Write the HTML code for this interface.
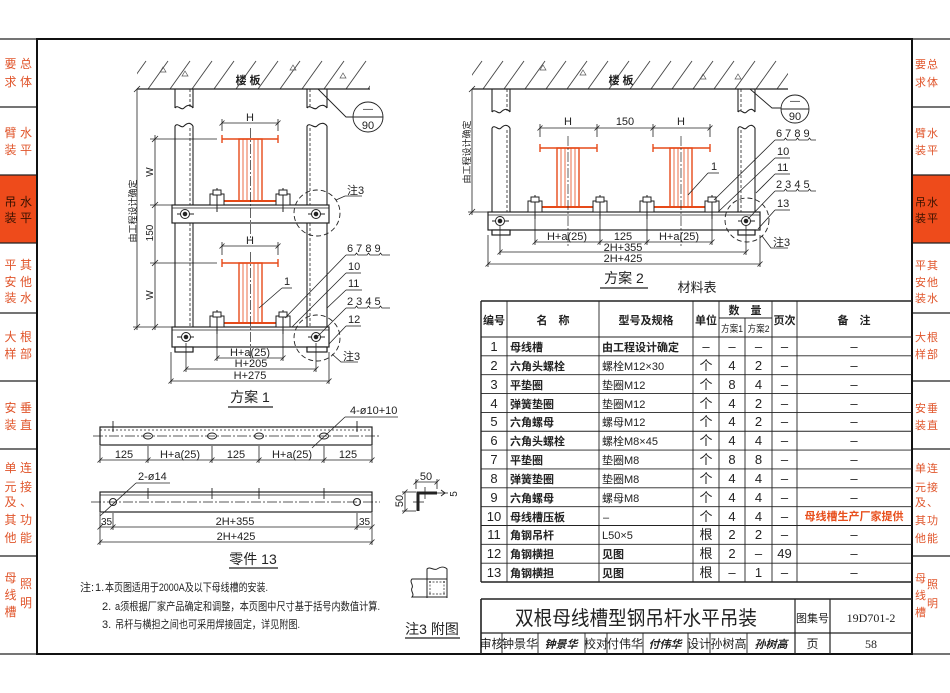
<!DOCTYPE html>
<html><head><meta charset="utf-8"><style>
html,body{margin:0;padding:0;background:#fff;}
svg{display:block;}
text{font-family:"Liberation Sans","Noto Sans CJK SC",sans-serif;fill:#222;}
.sb{font-size:12px;fill:#E0552B;text-anchor:middle;}
.sbr{font-size:11px;fill:#E0552B;text-anchor:middle;}
.act{fill:#3a1200;}
.d{font-size:11px;text-anchor:middle;}
.t{font-size:11px;}
.tc{font-size:11px;text-anchor:middle;}
.tn{font-size:13px;text-anchor:middle;}
</style></head><body>
<svg width="950" height="693" viewBox="0 0 950 693" xmlns="http://www.w3.org/2000/svg">
<defs>
<clipPath id="c1"><rect x="137" y="58" width="233" height="31"/></clipPath>
<clipPath id="c2"><rect x="472" y="58" width="316" height="31"/></clipPath>
</defs>

<!-- Sidebars -->
<rect x="0" y="175" width="37" height="68" fill="#EE4B1B"/>
<rect x="913" y="175" width="37" height="68" fill="#EE4B1B"/>
<g stroke="#222" stroke-width="1.2">
<line x1="0" y1="39" x2="37" y2="39"/><line x1="0" y1="107" x2="37" y2="107"/><line x1="0" y1="175" x2="37" y2="175"/><line x1="0" y1="243" x2="37" y2="243"/><line x1="0" y1="313" x2="37" y2="313"/><line x1="0" y1="381" x2="37" y2="381"/><line x1="0" y1="449" x2="37" y2="449"/><line x1="0" y1="556" x2="37" y2="556"/><line x1="0" y1="654" x2="37" y2="654"/>
<line x1="912" y1="39" x2="950" y2="39"/><line x1="912" y1="107" x2="950" y2="107"/><line x1="912" y1="175" x2="950" y2="175"/><line x1="912" y1="243" x2="950" y2="243"/><line x1="912" y1="313" x2="950" y2="313"/><line x1="912" y1="381" x2="950" y2="381"/><line x1="912" y1="449" x2="950" y2="449"/><line x1="912" y1="556" x2="950" y2="556"/><line x1="912" y1="654" x2="950" y2="654"/>
</g>
<g class="sb">
<text class="sb" x="10.5" y="68">要</text><text class="sb" x="26" y="68">总</text>
<text class="sb" x="10.5" y="86">求</text><text class="sb" x="26" y="86">体</text>
<text class="sb" x="10.5" y="137">臂</text><text class="sb" x="26" y="137">水</text>
<text class="sb" x="10.5" y="154">装</text><text class="sb" x="26" y="154">平</text>
<text class="sb act" x="10.5" y="206">吊</text><text class="sb act" x="26" y="206">水</text>
<text class="sb act" x="10.5" y="222">装</text><text class="sb act" x="26" y="222">平</text>
<text class="sb" x="10.5" y="269">平</text><text class="sb" x="26" y="269">其</text>
<text class="sb" x="10.5" y="286">安</text><text class="sb" x="26" y="286">他</text>
<text class="sb" x="10.5" y="302">装</text><text class="sb" x="26" y="302">水</text>
<text class="sb" x="10.5" y="341">大</text><text class="sb" x="26" y="341">根</text>
<text class="sb" x="10.5" y="358">样</text><text class="sb" x="26" y="358">部</text>
<text class="sb" x="10.5" y="412">安</text><text class="sb" x="26" y="412">垂</text>
<text class="sb" x="10.5" y="429">装</text><text class="sb" x="26" y="429">直</text>
<text class="sb" x="10.5" y="472">单</text><text class="sb" x="26" y="472">连</text>
<text class="sb" x="10.5" y="491">元</text><text class="sb" x="26" y="491">接</text>
<text class="sb" x="10.5" y="506">及</text><text class="sb" x="26" y="506">、</text>
<text class="sb" x="10.5" y="524">其</text><text class="sb" x="26" y="524">功</text>
<text class="sb" x="10.5" y="542">他</text><text class="sb" x="26" y="542">能</text>
<text class="sb" x="10.5" y="582">母</text><text class="sb" x="10.5" y="599">线</text><text class="sb" x="10.5" y="616">槽</text>
<text class="sb" x="26" y="588">照</text><text class="sb" x="26" y="607">明</text>
</g>
<g>
<text class="sbr" x="920.5" y="68">要</text><text class="sbr" x="932.5" y="68">总</text>
<text class="sbr" x="920.5" y="86">求</text><text class="sbr" x="932.5" y="86">体</text>
<text class="sbr" x="920.5" y="137">臂</text><text class="sbr" x="932.5" y="137">水</text>
<text class="sbr" x="920.5" y="154">装</text><text class="sbr" x="932.5" y="154">平</text>
<text class="sbr act" x="920.5" y="206">吊</text><text class="sbr act" x="932.5" y="206">水</text>
<text class="sbr act" x="920.5" y="222">装</text><text class="sbr act" x="932.5" y="222">平</text>
<text class="sbr" x="920.5" y="269">平</text><text class="sbr" x="932.5" y="269">其</text>
<text class="sbr" x="920.5" y="286">安</text><text class="sbr" x="932.5" y="286">他</text>
<text class="sbr" x="920.5" y="302">装</text><text class="sbr" x="932.5" y="302">水</text>
<text class="sbr" x="920.5" y="341">大</text><text class="sbr" x="932.5" y="341">根</text>
<text class="sbr" x="920.5" y="358">样</text><text class="sbr" x="932.5" y="358">部</text>
<text class="sbr" x="920.5" y="412">安</text><text class="sbr" x="932.5" y="412">垂</text>
<text class="sbr" x="920.5" y="429">装</text><text class="sbr" x="932.5" y="429">直</text>
<text class="sbr" x="920.5" y="472">单</text><text class="sbr" x="932.5" y="472">连</text>
<text class="sbr" x="920.5" y="491">元</text><text class="sbr" x="932.5" y="491">接</text>
<text class="sbr" x="920.5" y="506">及</text><text class="sbr" x="932.5" y="506">、</text>
<text class="sbr" x="920.5" y="524">其</text><text class="sbr" x="932.5" y="524">功</text>
<text class="sbr" x="920.5" y="542">他</text><text class="sbr" x="932.5" y="542">能</text>
<text class="sbr" x="920.5" y="582">母</text><text class="sbr" x="920.5" y="599">线</text><text class="sbr" x="920.5" y="616">槽</text>
<text class="sbr" x="932.5" y="588">照</text><text class="sbr" x="932.5" y="607">明</text>
</g>

<!-- Main frame -->
<rect x="37" y="39" width="875" height="615" fill="none" stroke="#111" stroke-width="2"/>

<!-- ================= SCHEME 1 ================= -->
<g clip-path="url(#c1)" stroke="#444" stroke-width="0.9">
<line x1="126" y1="89" x2="146" y2="61"/><line x1="148" y1="89" x2="168" y2="61"/><line x1="170" y1="89" x2="190" y2="61"/><line x1="192" y1="89" x2="212" y2="61"/><line x1="214" y1="89" x2="234" y2="61"/><line x1="236" y1="89" x2="256" y2="61"/><line x1="258" y1="89" x2="278" y2="61"/><line x1="280" y1="89" x2="300" y2="61"/><line x1="302" y1="89" x2="322" y2="61"/><line x1="324" y1="89" x2="344" y2="61"/><line x1="346" y1="89" x2="366" y2="61"/><line x1="368" y1="89" x2="388" y2="61"/>
</g>
<g fill="none" stroke="#555" stroke-width="0.7">
<path d="M160,72 l3,-5 l3,5 z"/><path d="M182,76 l3,-5 l3,5 z"/><path d="M290,70 l3,-5 l3,5 z"/><path d="M340,78 l3,-5 l3,5 z"/>
</g>
<line x1="137" y1="89" x2="370" y2="89" stroke="#222" stroke-width="1.3"/>
<text x="248" y="84" font-size="11" text-anchor="middle" font-weight="bold">楼 板</text>

<!-- rods scheme 1 -->
<g stroke="#222" stroke-width="1.1" fill="none">
<line x1="175" y1="89" x2="175" y2="108"/><line x1="193" y1="89" x2="193" y2="108"/>
<path d="M175,108 c3,-4 6,3 9,0 s6,-4 9,0"/>
<path d="M175,126 c3,-4 6,3 9,0 s6,-4 9,0"/>
<line x1="175" y1="126" x2="175" y2="352"/><line x1="193" y1="126" x2="193" y2="352"/>
<line x1="307" y1="89" x2="307" y2="108"/><line x1="327" y1="89" x2="327" y2="108"/>
<path d="M307,108 c3,-4 7,3 10,0 s7,-4 10,0"/>
<path d="M307,126 c3,-4 7,3 10,0 s7,-4 10,0"/>
<line x1="307" y1="126" x2="307" y2="352"/><line x1="327" y1="126" x2="327" y2="352"/>
</g>
<g stroke="#222" stroke-width="0.8" stroke-dasharray="3,2">
<line x1="190" y1="89" x2="190" y2="107"/><line x1="190" y1="128" x2="190" y2="347"/>
<line x1="310" y1="89" x2="310" y2="107"/><line x1="310" y1="128" x2="310" y2="347"/>
</g>

<!-- crossbars scheme 1 -->
<g stroke="#222" stroke-width="1.2" fill="#fff">
<rect x="172" y="205" width="157" height="18"/>
<rect x="172" y="327" width="157" height="20"/>
<rect x="175" y="347" width="18" height="5"/>
<rect x="307" y="347" width="20" height="5"/>
</g>
<line x1="172" y1="208" x2="329" y2="208" stroke="#222" stroke-width="0.8"/>
<line x1="172" y1="330" x2="329" y2="330" stroke="#222" stroke-width="0.8"/>
<g stroke="#222" stroke-width="1">
<line x1="177" y1="214" x2="194" y2="214"/><circle cx="185" cy="214" r="4.5" fill="#fff"/><circle cx="185" cy="214" r="1.8" fill="#222"/>
<line x1="308" y1="214" x2="325" y2="214"/><circle cx="316" cy="214" r="4.5" fill="#fff"/><circle cx="316" cy="214" r="1.8" fill="#222"/>
<line x1="177" y1="337" x2="194" y2="337"/><circle cx="186" cy="337" r="4.5" fill="#fff"/><circle cx="186" cy="337" r="1.8" fill="#222"/>
<line x1="308" y1="337" x2="325" y2="337"/><circle cx="316" cy="337" r="4.5" fill="#fff"/><circle cx="316" cy="337" r="1.8" fill="#222"/>
</g>

<!-- duct 1 scheme 1 -->
<g stroke="#E64A19" fill="none">
<line x1="222" y1="139" x2="278" y2="139" stroke-width="1.6"/>
<line x1="222" y1="135" x2="222" y2="143" stroke-width="1.4"/><line x1="278" y1="135" x2="278" y2="143" stroke-width="1.4"/>
<rect x="239" y="139" width="23" height="62" stroke-width="1.4"/>
<g stroke-width="0.8"><line x1="243" y1="139" x2="243" y2="201"/><line x1="247" y1="139" x2="247" y2="201"/><line x1="254" y1="139" x2="254" y2="201"/><line x1="258" y1="139" x2="258" y2="201"/></g>
<line x1="222" y1="201" x2="279" y2="201" stroke-width="2"/>
</g>
<!-- duct 2 scheme 1 -->
<g stroke="#E64A19" fill="none">
<line x1="222" y1="263" x2="278" y2="263" stroke-width="1.6"/>
<line x1="222" y1="259" x2="222" y2="267" stroke-width="1.4"/><line x1="278" y1="259" x2="278" y2="267" stroke-width="1.4"/>
<rect x="239" y="263" width="23" height="60" stroke-width="1.4"/>
<g stroke-width="0.8"><line x1="243" y1="263" x2="243" y2="323"/><line x1="247" y1="263" x2="247" y2="323"/><line x1="254" y1="263" x2="254" y2="323"/><line x1="258" y1="263" x2="258" y2="323"/></g>
<line x1="222" y1="323" x2="279" y2="323" stroke-width="2"/>
</g>
<g stroke="#222" stroke-width="0.7" stroke-dasharray="10,2,2,2">
<line x1="250.5" y1="128" x2="250.5" y2="238"/>
<line x1="250.5" y1="252" x2="250.5" y2="362"/>
</g>
<g stroke="#222" stroke-width="1" fill="#fff">
<rect x="210" y="194" width="14" height="11"/><rect x="276" y="194" width="14" height="11"/>
<rect x="210" y="316" width="14" height="11"/><rect x="276" y="316" width="14" height="11"/>
<line x1="217" y1="188" x2="217" y2="212"/><line x1="283" y1="188" x2="283" y2="212"/>
<line x1="217" y1="310" x2="217" y2="334"/><line x1="283" y1="310" x2="283" y2="334"/>
<rect x="213" y="190" width="8" height="5"/><rect x="279" y="190" width="8" height="5"/>
<rect x="213" y="312" width="8" height="5"/><rect x="279" y="312" width="8" height="5"/>
</g>

<!-- dims scheme 1 -->
<g stroke="#222" stroke-width="0.8" fill="none">
<line x1="137" y1="89" x2="137" y2="330"/>
<line x1="134" y1="92" x2="140" y2="86"/><line x1="134" y1="330" x2="140" y2="324"/>
<line x1="133" y1="327" x2="172" y2="327"/>
<line x1="155" y1="135" x2="155" y2="330"/>
<line x1="152" y1="142" x2="158" y2="136"/><line x1="152" y1="208" x2="158" y2="202"/><line x1="152" y1="266" x2="158" y2="260"/><line x1="152" y1="330" x2="158" y2="324"/>
<line x1="150" y1="139" x2="217" y2="139"/><line x1="150" y1="205" x2="172" y2="205"/><line x1="150" y1="263" x2="217" y2="263"/>
<line x1="222" y1="123" x2="278" y2="123"/><line x1="222" y1="119" x2="222" y2="131"/><line x1="278" y1="119" x2="278" y2="131"/>
<line x1="219.5" y1="125.5" x2="224.5" y2="120.5"/><line x1="275.5" y1="125.5" x2="280.5" y2="120.5"/>
<line x1="222" y1="246" x2="278" y2="246"/><line x1="222" y1="242" x2="222" y2="255"/><line x1="278" y1="242" x2="278" y2="255"/>
<line x1="219.5" y1="248.5" x2="224.5" y2="243.5"/><line x1="275.5" y1="248.5" x2="280.5" y2="243.5"/>
<line x1="217" y1="334" x2="217" y2="361"/><line x1="283" y1="334" x2="283" y2="361"/>
<line x1="217" y1="358" x2="283" y2="358"/>
<line x1="214.5" y1="360.5" x2="219.5" y2="355.5"/><line x1="280.5" y1="360.5" x2="285.5" y2="355.5"/>
<line x1="186" y1="343" x2="186" y2="372"/><line x1="316" y1="343" x2="316" y2="372"/>
<line x1="186" y1="369" x2="316" y2="369"/>
<line x1="183.5" y1="371.5" x2="188.5" y2="366.5"/><line x1="313.5" y1="371.5" x2="318.5" y2="366.5"/>
<line x1="171" y1="352" x2="171" y2="384"/><line x1="329" y1="352" x2="329" y2="384"/>
<line x1="171" y1="381" x2="329" y2="381"/>
<line x1="168.5" y1="383.5" x2="173.5" y2="378.5"/><line x1="326.5" y1="383.5" x2="331.5" y2="378.5"/>
</g>
<text transform="translate(136,211) rotate(-90)" text-anchor="middle" font-size="9">由工程设计确定</text>
<text transform="translate(153,172) rotate(-90)" text-anchor="middle" font-size="10">W</text>
<text transform="translate(153,233) rotate(-90)" text-anchor="middle" font-size="10">150</text>
<text transform="translate(153,295) rotate(-90)" text-anchor="middle" font-size="10">W</text>
<text class="d" x="250" y="121">H</text>
<text class="d" x="250" y="244">H</text>
<text class="d" x="250" y="356">H+a(25)</text>
<text class="d" x="251" y="367">H+205</text>
<text class="d" x="250" y="379">H+275</text>

<g stroke="#222" stroke-width="0.9" fill="none">
<polyline points="318,89 346,117 353,117"/>
<circle cx="368" cy="117" r="15"/>
<line x1="353" y1="117" x2="383" y2="117"/>
</g>
<text x="368" y="112" font-size="10" text-anchor="middle">—</text>
<text x="368" y="129" font-size="11" text-anchor="middle">90</text>

<g stroke="#222" stroke-width="0.9" fill="none" stroke-dasharray="5,3">
<circle cx="317" cy="213" r="23"/>
<circle cx="317" cy="338" r="23"/>
</g>
<g stroke="#222" stroke-width="0.8" fill="none">
<polyline points="336,200 345,196 362,196"/>
<polyline points="332,354 341,362 358,362"/>
<line x1="346" y1="255" x2="285" y2="318"/>
<path d="M346,255 h9 l1.5,-2 1.5,2 h9 l1.5,-2 1.5,2 h9 l1.5,-2 1.5,2 h8"/>
<line x1="346" y1="273" x2="292" y2="327"/><line x1="346" y1="273" x2="361" y2="273"/>
<line x1="346" y1="290" x2="327" y2="308"/><line x1="346" y1="290" x2="362" y2="290"/>
<line x1="346" y1="308" x2="318" y2="336"/>
<path d="M346,308 h9 l1.5,-2 1.5,2 h9 l1.5,-2 1.5,2 h9 l1.5,-2 1.5,2 h8"/>
<line x1="346" y1="326" x2="329" y2="344"/><line x1="346" y1="326" x2="361" y2="326"/>
<line x1="282" y1="288" x2="259" y2="308"/><line x1="282" y1="288" x2="292" y2="288"/>
</g>
<text x="347" y="194" font-size="11">注3</text>
<text x="343" y="360" font-size="11">注3</text>
<text x="347" y="252" font-size="11">6 7 8 9</text>
<text x="348" y="270" font-size="11">10</text>
<text x="348" y="287" font-size="11">11</text>
<text x="347" y="305" font-size="11">2 3 4 5</text>
<text x="348" y="323" font-size="11">12</text>
<text x="284" y="285" font-size="11">1</text>
<text x="250" y="402" font-size="14" text-anchor="middle">方案 1</text>
<line x1="228" y1="407" x2="273" y2="407" stroke="#222" stroke-width="1.2"/>

<!-- ================= SCHEME 2 ================= -->
<g clip-path="url(#c2)" stroke="#444" stroke-width="0.9">
<line x1="462" y1="89" x2="482" y2="61"/><line x1="483" y1="89" x2="503" y2="61"/><line x1="504" y1="89" x2="524" y2="61"/><line x1="525" y1="89" x2="545" y2="61"/><line x1="546" y1="89" x2="566" y2="61"/><line x1="567" y1="89" x2="587" y2="61"/><line x1="588" y1="89" x2="608" y2="61"/><line x1="609" y1="89" x2="629" y2="61"/><line x1="630" y1="89" x2="650" y2="61"/><line x1="651" y1="89" x2="671" y2="61"/><line x1="672" y1="89" x2="692" y2="61"/><line x1="693" y1="89" x2="713" y2="61"/><line x1="714" y1="89" x2="734" y2="61"/><line x1="735" y1="89" x2="755" y2="61"/><line x1="756" y1="89" x2="776" y2="61"/><line x1="777" y1="89" x2="797" y2="61"/>
</g>
<g fill="none" stroke="#555" stroke-width="0.7">
<path d="M540,70 l3,-5 l3,5 z"/><path d="M580,75 l3,-5 l3,5 z"/><path d="M700,79 l3,-5 l3,5 z"/><path d="M735,79 l3,-5 l3,5 z"/>
</g>
<line x1="472" y1="89" x2="788" y2="89" stroke="#222" stroke-width="1.3"/>
<text x="621" y="84" font-size="11" text-anchor="middle" font-weight="bold">楼 板</text>

<g stroke="#222" stroke-width="1.1" fill="none">
<line x1="492" y1="89" x2="492" y2="112"/><line x1="510" y1="89" x2="510" y2="112"/>
<path d="M492,112 c3,-4 6,3 9,0 s6,-4 9,0"/>
<path d="M492,128 c3,-4 6,3 9,0 s6,-4 9,0"/>
<line x1="492" y1="128" x2="492" y2="235"/><line x1="510" y1="128" x2="510" y2="235"/>
<line x1="738" y1="89" x2="738" y2="112"/><line x1="755" y1="89" x2="755" y2="112"/>
<path d="M738,112 c3,-4 5.5,3 8.5,0 s5.5,-4 8.5,0"/>
<path d="M738,128 c3,-4 5.5,3 8.5,0 s5.5,-4 8.5,0"/>
<line x1="738" y1="128" x2="738" y2="235"/><line x1="755" y1="128" x2="755" y2="235"/>
</g>
<g stroke="#222" stroke-width="0.8" stroke-dasharray="3,2">
<line x1="507" y1="89" x2="507" y2="111"/><line x1="507" y1="130" x2="507" y2="230"/>
<line x1="741" y1="89" x2="741" y2="111"/><line x1="741" y1="130" x2="741" y2="230"/>
</g>
<g stroke="#222" stroke-width="1.2" fill="#fff">
<rect x="488" y="212" width="272" height="18"/>
<rect x="492" y="230" width="18" height="5"/>
<rect x="738" y="230" width="17" height="5"/>
</g>
<line x1="488" y1="215" x2="760" y2="215" stroke="#222" stroke-width="0.8"/>
<g stroke="#222" stroke-width="1">
<line x1="492" y1="221" x2="509" y2="221"/><circle cx="500" cy="221" r="4.5" fill="#fff"/><circle cx="500" cy="221" r="1.8" fill="#222"/>
<line x1="738" y1="221" x2="755" y2="221"/><circle cx="746" cy="221" r="4.5" fill="#fff"/><circle cx="746" cy="221" r="1.8" fill="#222"/>
</g>
<g stroke="#E64A19" fill="none">
<line x1="540" y1="148" x2="597" y2="148" stroke-width="1.6"/>
<line x1="540" y1="144" x2="540" y2="152" stroke-width="1.4"/><line x1="597" y1="144" x2="597" y2="152" stroke-width="1.4"/>
<rect x="557" y="148" width="22" height="59" stroke-width="1.4"/>
<g stroke-width="0.8"><line x1="561" y1="148" x2="561" y2="207"/><line x1="565" y1="148" x2="565" y2="207"/><line x1="571" y1="148" x2="571" y2="207"/><line x1="575" y1="148" x2="575" y2="207"/></g>
<line x1="535" y1="207" x2="600" y2="207" stroke-width="2"/>
<line x1="653" y1="148" x2="710" y2="148" stroke-width="1.6"/>
<line x1="653" y1="144" x2="653" y2="152" stroke-width="1.4"/><line x1="710" y1="144" x2="710" y2="152" stroke-width="1.4"/>
<rect x="670" y="148" width="22" height="59" stroke-width="1.4"/>
<g stroke-width="0.8"><line x1="674" y1="148" x2="674" y2="207"/><line x1="678" y1="148" x2="678" y2="207"/><line x1="684" y1="148" x2="684" y2="207"/><line x1="688" y1="148" x2="688" y2="207"/></g>
<line x1="647" y1="207" x2="712" y2="207" stroke-width="2"/>
</g>
<g stroke="#222" stroke-width="0.7" stroke-dasharray="10,2,2,2">
<line x1="568" y1="136" x2="568" y2="246"/>
<line x1="681" y1="136" x2="681" y2="246"/>
</g>
<g stroke="#222" stroke-width="1" fill="#fff">
<rect x="528" y="201" width="14" height="11"/><rect x="593" y="201" width="14" height="11"/>
<rect x="640" y="201" width="14" height="11"/><rect x="705" y="201" width="14" height="11"/>
<line x1="535" y1="195" x2="535" y2="219"/><line x1="600" y1="195" x2="600" y2="219"/>
<line x1="647" y1="195" x2="647" y2="219"/><line x1="712" y1="195" x2="712" y2="219"/>
<rect x="531" y="197" width="8" height="5"/><rect x="596" y="197" width="8" height="5"/>
<rect x="643" y="197" width="8" height="5"/><rect x="708" y="197" width="8" height="5"/>
</g>
<g stroke="#222" stroke-width="0.8" fill="none">
<line x1="472" y1="89" x2="472" y2="215"/>
<line x1="469" y1="92" x2="475" y2="86"/><line x1="469" y1="215" x2="475" y2="209"/>
<line x1="468" y1="212" x2="488" y2="212"/>
<line x1="540" y1="128" x2="710" y2="128"/>
<line x1="540" y1="124" x2="540" y2="137"/><line x1="597" y1="124" x2="597" y2="137"/><line x1="653" y1="124" x2="653" y2="137"/><line x1="710" y1="124" x2="710" y2="137"/>
<line x1="537.5" y1="130.5" x2="542.5" y2="125.5"/><line x1="594.5" y1="130.5" x2="599.5" y2="125.5"/><line x1="650.5" y1="130.5" x2="655.5" y2="125.5"/><line x1="707.5" y1="130.5" x2="712.5" y2="125.5"/>
<line x1="535" y1="219" x2="535" y2="245"/><line x1="600" y1="219" x2="600" y2="245"/><line x1="647" y1="219" x2="647" y2="245"/><line x1="712" y1="219" x2="712" y2="245"/>
<line x1="535" y1="242" x2="712" y2="242"/>
<line x1="532.5" y1="244.5" x2="537.5" y2="239.5"/><line x1="597.5" y1="244.5" x2="602.5" y2="239.5"/><line x1="644.5" y1="244.5" x2="649.5" y2="239.5"/><line x1="709.5" y1="244.5" x2="714.5" y2="239.5"/>
<line x1="500" y1="226" x2="500" y2="255"/><line x1="746" y1="226" x2="746" y2="255"/>
<line x1="500" y1="252" x2="746" y2="252"/>
<line x1="497.5" y1="254.5" x2="502.5" y2="249.5"/><line x1="743.5" y1="254.5" x2="748.5" y2="249.5"/>
<line x1="488" y1="235" x2="488" y2="267"/><line x1="760" y1="235" x2="760" y2="267"/>
<line x1="488" y1="264" x2="760" y2="264"/>
<line x1="485.5" y1="266.5" x2="490.5" y2="261.5"/><line x1="757.5" y1="266.5" x2="762.5" y2="261.5"/>
</g>
<text transform="translate(470,152) rotate(-90)" text-anchor="middle" font-size="9">由工程设计确定</text>
<text class="d" x="568" y="125">H</text>
<text class="d" x="625" y="125">150</text>
<text class="d" x="681" y="125">H</text>
<text class="d" x="567" y="240">H+a(25)</text>
<text class="d" x="623" y="240">125</text>
<text class="d" x="679" y="240">H+a(25)</text>
<text class="d" x="623" y="251">2H+355</text>
<text class="d" x="623" y="262">2H+425</text>

<g stroke="#222" stroke-width="0.9" fill="none">
<polyline points="750,89 772,108 781,108"/>
<circle cx="795" cy="109" r="14"/>
<line x1="781" y1="109" x2="809" y2="109"/>
</g>
<text x="795" y="104" font-size="10" text-anchor="middle">—</text>
<text x="795" y="120" font-size="11" text-anchor="middle">90</text>
<circle cx="747" cy="220" r="22" fill="none" stroke="#222" stroke-width="0.9" stroke-dasharray="5,3"/>
<g stroke="#222" stroke-width="0.8" fill="none">
<line x1="775" y1="140" x2="714" y2="200"/>
<path d="M775,140 h9 l1.5,-2 1.5,2 h9 l1.5,-2 1.5,2 h9 l1.5,-2 1.5,2 h5"/>
<line x1="775" y1="158" x2="718" y2="212"/><line x1="775" y1="158" x2="790" y2="158"/>
<line x1="775" y1="174" x2="756" y2="193"/><line x1="775" y1="174" x2="790" y2="174"/>
<line x1="775" y1="191" x2="748" y2="219"/>
<path d="M775,191 h9 l1.5,-2 1.5,2 h9 l1.5,-2 1.5,2 h9 l1.5,-2 1.5,2 h5"/>
<line x1="775" y1="210" x2="758" y2="229"/><line x1="775" y1="210" x2="790" y2="210"/>
<polyline points="762,236 771,248 788,248"/>
<line x1="708" y1="173" x2="688" y2="195"/><line x1="708" y1="173" x2="719" y2="173"/>
</g>
<text x="776" y="137" font-size="11">6 7 8 9</text>
<text x="777" y="155" font-size="11">10</text>
<text x="777" y="171" font-size="11">11</text>
<text x="776" y="188" font-size="11">2 3 4 5</text>
<text x="777" y="207" font-size="11">13</text>
<text x="773" y="246" font-size="11">注3</text>
<text x="711" y="170" font-size="11">1</text>
<text x="624" y="283" font-size="14" text-anchor="middle">方案 2</text>
<line x1="600" y1="288" x2="648" y2="288" stroke="#222" stroke-width="1.2"/>
<text x="697" y="292" font-size="13" text-anchor="middle">材料表</text>

<!-- ================= TABLE ================= -->
<g stroke="#222" stroke-width="0.9" fill="none">
<line x1="481" y1="301" x2="912" y2="301" stroke-width="1.4"/>
<line x1="481" y1="301" x2="481" y2="582" stroke-width="1.4"/>
<line x1="507" y1="301" x2="507" y2="582"/>
<line x1="599" y1="301" x2="599" y2="582"/>
<line x1="693" y1="301" x2="693" y2="582"/>
<line x1="719" y1="301" x2="719" y2="582"/>
<line x1="745" y1="318" x2="745" y2="582"/>
<line x1="772" y1="301" x2="772" y2="582"/>
<line x1="797" y1="301" x2="797" y2="582"/>
<line x1="719" y1="318" x2="772" y2="318"/>
<line x1="481" y1="337" x2="912" y2="337"/>
<line x1="481" y1="355.85" x2="912" y2="355.85"/>
<line x1="481" y1="374.7" x2="912" y2="374.7"/>
<line x1="481" y1="393.55" x2="912" y2="393.55"/>
<line x1="481" y1="412.4" x2="912" y2="412.4"/>
<line x1="481" y1="431.25" x2="912" y2="431.25"/>
<line x1="481" y1="450.1" x2="912" y2="450.1"/>
<line x1="481" y1="468.95" x2="912" y2="468.95"/>
<line x1="481" y1="487.8" x2="912" y2="487.8"/>
<line x1="481" y1="506.65" x2="912" y2="506.65"/>
<line x1="481" y1="525.5" x2="912" y2="525.5"/>
<line x1="481" y1="544.35" x2="912" y2="544.35"/>
<line x1="481" y1="563.2" x2="912" y2="563.2"/>
<line x1="481" y1="582" x2="912" y2="582" stroke-width="1.4"/>
</g>
<text class="tc" x="494" y="324" font-weight="bold" font-size="10">编号</text>
<text class="tc" x="553" y="324" font-weight="bold">名　称</text>
<text class="tc" x="646" y="324" font-weight="bold">型号及规格</text>
<text class="tc" x="706" y="324" font-weight="bold">单位</text>
<text class="tc" x="745" y="314" font-weight="bold">数　量</text>
<text x="721" y="332" font-size="9.5" textLength="22" lengthAdjust="spacingAndGlyphs">方案1</text>
<text x="747.5" y="332" font-size="9.5" textLength="22" lengthAdjust="spacingAndGlyphs">方案2</text>
<text class="tc" x="784.5" y="324" font-weight="bold">页次</text>
<text class="tc" x="854" y="324" font-weight="bold">备　注</text>

<g>
<text class="tn" x="494" y="351">1</text><text class="t" x="510" y="351" font-weight="bold">母线槽</text><text class="t" x="602" y="351" font-weight="bold">由工程设计确定</text>
<text class="tn" x="706" y="351">–</text><text class="tn" x="732" y="351">–</text><text class="tn" x="758.5" y="351">–</text><text class="tn" x="784.5" y="351">–</text><text class="tn" x="854" y="351">–</text>

<text class="tn" x="494" y="370">2</text><text class="t" x="510" y="370" font-weight="bold">六角头螺栓</text><text class="t" x="602" y="370" font-size="12">螺栓M12×30</text>
<text class="tn" x="706" y="370">个</text><text class="tn" x="732" y="370">4</text><text class="tn" x="758.5" y="370">2</text><text class="tn" x="784.5" y="370">–</text><text class="tn" x="854" y="370">–</text>

<text class="tn" x="494" y="389">3</text><text class="t" x="510" y="389" font-weight="bold">平垫圈</text><text class="t" x="602" y="389" font-size="12">垫圈M12</text>
<text class="tn" x="706" y="389">个</text><text class="tn" x="732" y="389">8</text><text class="tn" x="758.5" y="389">4</text><text class="tn" x="784.5" y="389">–</text><text class="tn" x="854" y="389">–</text>

<text class="tn" x="494" y="408">4</text><text class="t" x="510" y="408" font-weight="bold">弹簧垫圈</text><text class="t" x="602" y="408" font-size="12">垫圈M12</text>
<text class="tn" x="706" y="408">个</text><text class="tn" x="732" y="408">4</text><text class="tn" x="758.5" y="408">2</text><text class="tn" x="784.5" y="408">–</text><text class="tn" x="854" y="408">–</text>

<text class="tn" x="494" y="426">5</text><text class="t" x="510" y="426" font-weight="bold">六角螺母</text><text class="t" x="602" y="426" font-size="12">螺母M12</text>
<text class="tn" x="706" y="426">个</text><text class="tn" x="732" y="426">4</text><text class="tn" x="758.5" y="426">2</text><text class="tn" x="784.5" y="426">–</text><text class="tn" x="854" y="426">–</text>

<text class="tn" x="494" y="445">6</text><text class="t" x="510" y="445" font-weight="bold">六角头螺栓</text><text class="t" x="602" y="445" font-size="12">螺栓M8×45</text>
<text class="tn" x="706" y="445">个</text><text class="tn" x="732" y="445">4</text><text class="tn" x="758.5" y="445">4</text><text class="tn" x="784.5" y="445">–</text><text class="tn" x="854" y="445">–</text>

<text class="tn" x="494" y="464">7</text><text class="t" x="510" y="464" font-weight="bold">平垫圈</text><text class="t" x="602" y="464" font-size="12">垫圈M8</text>
<text class="tn" x="706" y="464">个</text><text class="tn" x="732" y="464">8</text><text class="tn" x="758.5" y="464">8</text><text class="tn" x="784.5" y="464">–</text><text class="tn" x="854" y="464">–</text>

<text class="tn" x="494" y="483">8</text><text class="t" x="510" y="483" font-weight="bold">弹簧垫圈</text><text class="t" x="602" y="483" font-size="12">垫圈M8</text>
<text class="tn" x="706" y="483">个</text><text class="tn" x="732" y="483">4</text><text class="tn" x="758.5" y="483">4</text><text class="tn" x="784.5" y="483">–</text><text class="tn" x="854" y="483">–</text>

<text class="tn" x="494" y="502">9</text><text class="t" x="510" y="502" font-weight="bold">六角螺母</text><text class="t" x="602" y="502" font-size="12">螺母M8</text>
<text class="tn" x="706" y="502">个</text><text class="tn" x="732" y="502">4</text><text class="tn" x="758.5" y="502">4</text><text class="tn" x="784.5" y="502">–</text><text class="tn" x="854" y="502">–</text>

<text class="tn" x="494" y="521">10</text><text class="t" x="510" y="521" font-weight="bold">母线槽压板</text><text class="t" x="603" y="521" font-size="13">–</text>
<text class="tn" x="706" y="521">个</text><text class="tn" x="732" y="521">4</text><text class="tn" x="758.5" y="521">4</text><text class="tn" x="784.5" y="521">–</text><text class="tc" x="854" y="520" font-weight="bold" style="fill:#E8501E">母线槽生产厂家提供</text>

<text class="tn" x="494" y="539">11</text><text class="t" x="510" y="539" font-weight="bold">角钢吊杆</text><text class="t" x="602" y="539" font-size="12">L50×5</text>
<text class="tn" x="706" y="539">根</text><text class="tn" x="732" y="539">2</text><text class="tn" x="758.5" y="539">2</text><text class="tn" x="784.5" y="539">–</text><text class="tn" x="854" y="539">–</text>

<text class="tn" x="494" y="558">12</text><text class="t" x="510" y="558" font-weight="bold">角钢横担</text><text class="t" x="602" y="558" font-weight="bold">见图</text>
<text class="tn" x="706" y="558">根</text><text class="tn" x="732" y="558">2</text><text class="tn" x="758.5" y="558">–</text><text class="tn" x="784.5" y="558">49</text><text class="tn" x="854" y="558">–</text>

<text class="tn" x="494" y="577">13</text><text class="t" x="510" y="577" font-weight="bold">角钢横担</text><text class="t" x="602" y="577" font-weight="bold">见图</text>
<text class="tn" x="706" y="577">根</text><text class="tn" x="732" y="577">–</text><text class="tn" x="758.5" y="577">1</text><text class="tn" x="784.5" y="577">–</text><text class="tn" x="854" y="577">–</text>
</g>

<!-- ================= TITLE BLOCK ================= -->
<g stroke="#222" stroke-width="1.2" fill="none">
<line x1="481" y1="599" x2="912" y2="599" stroke-width="1.6"/>
<line x1="481" y1="599" x2="481" y2="654" stroke-width="1.6"/>
<line x1="481" y1="633" x2="912" y2="633"/>
<line x1="795" y1="599" x2="795" y2="654"/>
<line x1="830" y1="599" x2="830" y2="654"/>
<line x1="502" y1="633" x2="502" y2="654" stroke-width="0.9"/>
<line x1="538" y1="633" x2="538" y2="654" stroke-width="0.9"/>
<line x1="585" y1="633" x2="585" y2="654" stroke-width="0.9"/>
<line x1="607" y1="633" x2="607" y2="654" stroke-width="0.9"/>
<line x1="643" y1="633" x2="643" y2="654" stroke-width="0.9"/>
<line x1="688" y1="633" x2="688" y2="654" stroke-width="0.9"/>
<line x1="710" y1="633" x2="710" y2="654" stroke-width="0.9"/>
<line x1="747" y1="633" x2="747" y2="654" stroke-width="0.9"/>
</g>
<text x="636" y="625" font-size="20" text-anchor="middle" textLength="242" lengthAdjust="spacingAndGlyphs">双根母线槽型钢吊杆水平吊装</text>
<text x="812.5" y="622" font-size="11" text-anchor="middle">图集号</text>
<text x="871" y="622" font-size="12" text-anchor="middle" style="font-family:'Liberation Serif',serif">19D701-2</text>
<g font-size="12" text-anchor="middle">
<text x="491.5" y="648">审核</text>
<text x="520" y="648">钟景华</text>
<text x="561" y="648" font-size="11" font-style="italic" font-weight="bold">钟景华</text>
<text x="596" y="648">校对</text>
<text x="625" y="648">付伟华</text>
<text x="665" y="648" font-size="11" font-style="italic" font-weight="bold">付伟华</text>
<text x="699" y="648">设计</text>
<text x="728.5" y="648">孙树高</text>
<text x="771" y="648" font-size="11" font-style="italic" font-weight="bold">孙树高</text>
<text x="812.5" y="648">页</text>
<text x="871" y="648" style="font-family:'Liberation Serif',serif">58</text>
</g>

<!-- ================= PART 13 ================= -->
<g stroke="#222" fill="none">
<rect x="100" y="427" width="272" height="18" stroke-width="1.2"/>
<line x1="100" y1="430" x2="372" y2="430" stroke-width="0.7" stroke-dasharray="2,2"/>
<line x1="93" y1="436" x2="379" y2="436" stroke-width="0.7" stroke-dasharray="10,2,2,2"/>
<line x1="113" y1="421" x2="113" y2="432" stroke-width="0.9"/>
<line x1="357" y1="421" x2="357" y2="432" stroke-width="0.9"/>
<ellipse cx="148" cy="436" rx="4.5" ry="3" stroke-width="1"/>
<ellipse cx="212" cy="436" rx="4.5" ry="3" stroke-width="1"/>
<ellipse cx="259" cy="436" rx="4.5" ry="3" stroke-width="1"/>
<ellipse cx="324" cy="436" rx="4.5" ry="3" stroke-width="1"/>
<g stroke-width="0.8">
<line x1="100" y1="446" x2="100" y2="463"/><line x1="148" y1="446" x2="148" y2="463"/><line x1="212" y1="446" x2="212" y2="463"/><line x1="259" y1="446" x2="259" y2="463"/><line x1="324" y1="446" x2="324" y2="463"/><line x1="372" y1="446" x2="372" y2="463"/>
<line x1="100" y1="460" x2="372" y2="460"/>
<line x1="97.5" y1="462.5" x2="102.5" y2="457.5"/><line x1="145.5" y1="462.5" x2="150.5" y2="457.5"/><line x1="209.5" y1="462.5" x2="214.5" y2="457.5"/><line x1="256.5" y1="462.5" x2="261.5" y2="457.5"/><line x1="321.5" y1="462.5" x2="326.5" y2="457.5"/><line x1="369.5" y1="462.5" x2="374.5" y2="457.5"/>
<line x1="345" y1="417" x2="312" y2="448"/><line x1="345" y1="417" x2="398" y2="417"/>
</g>
<rect x="100" y="492" width="272" height="20" stroke-width="1.2"/>
<line x1="100" y1="495" x2="372" y2="495" stroke-width="0.8"/>
<line x1="91" y1="502" x2="380" y2="502" stroke-width="0.7" stroke-dasharray="10,2,2,2"/>
<circle cx="113" cy="502" r="3.5" stroke-width="1"/>
<circle cx="357" cy="502" r="3.5" stroke-width="1"/>
<g stroke-width="0.9">
<line x1="148" y1="488" x2="148" y2="499"/><line x1="212" y1="488" x2="212" y2="499"/><line x1="259" y1="488" x2="259" y2="499"/><line x1="324" y1="488" x2="324" y2="499"/>
</g>
<g stroke-width="0.8">
<line x1="136" y1="483" x2="100" y2="516"/><line x1="136" y1="483" x2="170" y2="483"/>
<line x1="100" y1="513" x2="100" y2="545"/><line x1="113" y1="513" x2="113" y2="530"/><line x1="357" y1="513" x2="357" y2="530"/><line x1="372" y1="513" x2="372" y2="545"/>
<line x1="100" y1="527" x2="372" y2="527"/>
<line x1="97.5" y1="529.5" x2="102.5" y2="524.5"/><line x1="110.5" y1="529.5" x2="115.5" y2="524.5"/><line x1="354.5" y1="529.5" x2="359.5" y2="524.5"/><line x1="369.5" y1="529.5" x2="374.5" y2="524.5"/>
<line x1="100" y1="542" x2="372" y2="542"/>
<line x1="97.5" y1="544.5" x2="102.5" y2="539.5"/><line x1="369.5" y1="544.5" x2="374.5" y2="539.5"/>
</g>
</g>
<text class="d" x="124" y="458">125</text>
<text class="d" x="180" y="458">H+a(25)</text>
<text class="d" x="236" y="458">125</text>
<text class="d" x="292" y="458">H+a(25)</text>
<text class="d" x="348" y="458">125</text>
<text x="350" y="414" font-size="11">4-ø10+10</text>
<text x="138" y="480" font-size="11">2-ø14</text>
<text x="106.5" y="525" font-size="10" text-anchor="middle">35</text>
<text class="d" x="235" y="525">2H+355</text>
<text x="364.5" y="525" font-size="10" text-anchor="middle">35</text>
<text class="d" x="236" y="540">2H+425</text>
<text x="253" y="564" font-size="14" text-anchor="middle">零件 13</text>
<line x1="229" y1="568" x2="278" y2="568" stroke="#222" stroke-width="1.2"/>

<!-- angle section -->
<g stroke="#222" fill="none">
<path d="M418,511 V493 H437" stroke-width="3"/>
<line x1="425" y1="487" x2="425" y2="499" stroke-width="0.8"/>
<line x1="413" y1="502" x2="424" y2="502" stroke-width="0.8"/>
<g stroke-width="0.8">
<line x1="415" y1="482" x2="437" y2="482"/><line x1="416" y1="479" x2="416" y2="489"/><line x1="437" y1="479" x2="437" y2="489"/>
<line x1="413.5" y1="484.5" x2="418.5" y2="479.5"/><line x1="434.5" y1="484.5" x2="439.5" y2="479.5"/>
<line x1="405" y1="492" x2="405" y2="511"/><line x1="402" y1="492" x2="416" y2="492"/><line x1="402" y1="511" x2="416" y2="511"/>
<line x1="402.5" y1="494.5" x2="407.5" y2="489.5"/><line x1="402.5" y1="513.5" x2="407.5" y2="508.5"/>
<line x1="437" y1="493" x2="448" y2="493"/>
</g>
<path d="M441,490 l4,3 l-4,3" stroke-width="1"/>
</g>
<text x="426" y="480" font-size="11" text-anchor="middle">50</text>
<text transform="translate(403,501) rotate(-90)" font-size="11" text-anchor="middle">50</text>
<text transform="translate(457,494) rotate(-90)" font-size="10" text-anchor="middle">5</text>

<!-- note3 attached figure -->
<g stroke="#222" fill="#fff" stroke-width="1">
<path d="M427,598 V569 c3,-3 7,2 10,0 s7,-3 10,0 V598" />
<path d="M447,579 H412 c-3,3 2,6 0,9 s3,6 0,9 H447" />
<line x1="427" y1="579" x2="427" y2="597"/>
<line x1="447" y1="579" x2="447" y2="597"/>
</g>
<g stroke="#222" stroke-width="0.7" stroke-dasharray="2,1.5" fill="none">
<line x1="430" y1="581" x2="430" y2="595"/>
<line x1="444" y1="581" x2="444" y2="595"/>
<line x1="429" y1="582" x2="445" y2="582"/>
<line x1="429" y1="594" x2="445" y2="594"/>
</g>
<text x="432" y="634" font-size="14" text-anchor="middle">注3 附图</text>
<line x1="405" y1="638" x2="460" y2="638" stroke="#222" stroke-width="1.2"/>

<!-- notes -->
<text x="80" y="591" font-size="11">注:</text>
<text x="95" y="591" font-size="11">1.</text>
<text x="105" y="591" font-size="11" textLength="163" lengthAdjust="spacingAndGlyphs">本页图适用于2000A及以下母线槽的安装.</text>
<text x="102" y="610" font-size="11">2.</text>
<text x="115" y="610" font-size="11" textLength="265" lengthAdjust="spacingAndGlyphs">a须根据厂家产品确定和调整，本页图中尺寸基于括号内数值计算.</text>
<text x="102" y="628" font-size="11">3.</text>
<text x="115" y="628" font-size="11" textLength="185" lengthAdjust="spacingAndGlyphs">吊杆与横担之间也可采用焊接固定，详见附图.</text>

</svg>
</body></html>
